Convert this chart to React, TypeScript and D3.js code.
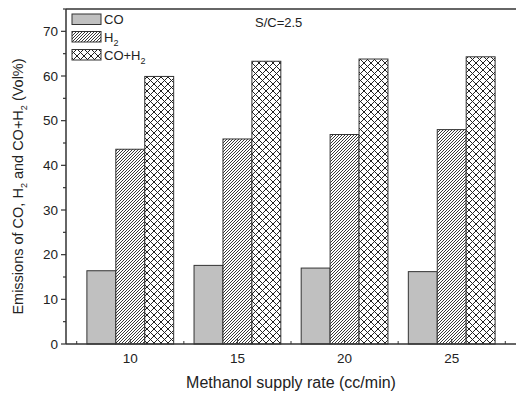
import { useEffect, useRef } from 'react';
import * as d3 from 'd3';

const rates = [10, 15, 20, 25];
const coValues = [16.4, 17.6, 17.0, 16.2];
const h2Values = [43.6, 45.9, 46.9, 48.0];
const coH2Values = [59.9, 63.3, 63.8, 64.3];
const yTicks = [0, 10, 20, 30, 40, 50, 60, 70];
const xTicks = [10, 15, 20, 25];

const W = 516;
const H = 394;

export default function App() {
  const svgRef = useRef<SVGSVGElement>(null);

  useEffect(() => {
    if (!svgRef.current) return;
    const svg = d3.select(svgRef.current);
    svg.selectAll('*').remove();

    const margin = { top: 9, right: 0, bottom: 50, left: 66 };
    const x = d3.scaleLinear().domain([7, 28]).range([margin.left, W - margin.right]);
    const y = d3.scaleLinear().domain([0, 75]).range([H - margin.bottom, margin.top]);
    const barW = x(1.35) - x(0);
    const font = 'Arial, "Liberation Sans", sans-serif';
    const stroke = '#333';

    // Patterns
    const defs = svg.append('defs');
    const diag = defs.append('pattern')
      .attr('id', 'diag')
      .attr('patternUnits', 'userSpaceOnUse')
      .attr('width', 3)
      .attr('height', 3);
    diag.append('rect').attr('width', 3).attr('height', 3).attr('fill', '#fff');
    diag.append('path')
      .attr('d', 'M0,3 L3,0 M-1,1 L1,-1 M2,4 L4,2')
      .attr('stroke', '#222')
      .attr('stroke-width', 0.9);

    const cross = defs.append('pattern')
      .attr('id', 'cross')
      .attr('patternUnits', 'userSpaceOnUse')
      .attr('width', 7)
      .attr('height', 7);
    cross.append('rect').attr('width', 7).attr('height', 7).attr('fill', '#fff');
    cross.append('path')
      .attr('d', 'M0,0 L7,7 M0,7 L7,0')
      .attr('stroke', '#222')
      .attr('stroke-width', 1);

    const series = [
      { name: 'CO', values: coValues, fill: '#c0c0c0' },
      { name: 'H2', values: h2Values, fill: 'url(#diag)' },
      { name: 'COH2', values: coH2Values, fill: 'url(#cross)' },
    ];

    // Bars
    series.forEach((s, si) => {
      svg.append('g')
        .selectAll('rect')
        .data(rates)
        .enter().append('rect')
        .attr('x', (d) => x(d) + (si - 1.5) * barW)
        .attr('y', (d, i) => y(s.values[i]))
        .attr('width', barW)
        .attr('height', (d, i) => y(0) - y(s.values[i]))
        .attr('fill', s.fill)
        .attr('stroke', stroke)
        .attr('stroke-width', 1);
    });

    // Frame lines
    svg.append('line')
      .attr('x1', x(7)).attr('x2', W)
      .attr('y1', y(75)).attr('y2', y(75))
      .attr('stroke', stroke).attr('stroke-width', 1.5);

    // Left axis
    const yAxis = svg.append('g').attr('transform', `translate(${x(7)},0)`);
    yAxis.append('line')
      .attr('y1', y(0)).attr('y2', y(75))
      .attr('stroke', stroke).attr('stroke-width', 1.5);
    yAxis.selectAll('.major')
      .data(yTicks)
      .enter().append('line')
      .attr('x1', -5).attr('x2', 0)
      .attr('y1', (d) => y(d)).attr('y2', (d) => y(d))
      .attr('stroke', stroke).attr('stroke-width', 1.2);
    yAxis.selectAll('.minor')
      .data(yTicks.map((d) => d + 5))
      .enter().append('line')
      .attr('x1', -3).attr('x2', 0)
      .attr('y1', (d) => y(d)).attr('y2', (d) => y(d))
      .attr('stroke', stroke).attr('stroke-width', 1.2);
    yAxis.selectAll('text')
      .data(yTicks)
      .enter().append('text')
      .attr('x', -8)
      .attr('y', (d) => y(d))
      .attr('dy', '0.35em')
      .attr('text-anchor', 'end')
      .style('font-family', font)
      .style('font-size', '13.5px')
      .attr('fill', '#222')
      .text((d) => d);

    // Bottom axis
    const xAxis = svg.append('g').attr('transform', `translate(0,${y(0)})`);
    xAxis.append('line')
      .attr('x1', x(7)).attr('x2', W)
      .attr('stroke', stroke).attr('stroke-width', 1.5);
    xAxis.selectAll('.minor')
      .data([7.5, 10, 12.5, 15, 17.5, 20, 22.5, 25, 27.5])
      .enter().append('line')
      .attr('x1', (d) => x(d)).attr('x2', (d) => x(d))
      .attr('y1', 0).attr('y2', (d) => (d % 5 === 0 ? -5 : -3))
      .attr('stroke', stroke).attr('stroke-width', 1);
    xAxis.selectAll('text')
      .data(xTicks)
      .enter().append('text')
      .attr('x', (d) => x(d))
      .attr('y', 19)
      .attr('text-anchor', 'middle')
      .style('font-family', font)
      .style('font-size', '13.5px')
      .attr('fill', '#222')
      .text((d) => d);

    // Axis titles
    svg.append('text')
      .attr('x', (x(7) + W) / 2)
      .attr('y', 388)
      .attr('text-anchor', 'middle')
      .style('font-family', font)
      .style('font-size', '16px')
      .attr('fill', '#222')
      .text('Methanol supply rate (cc/min)');

    const yTitle = svg.append('text')
      .attr('transform', `translate(23,${(y(0) + y(75)) / 2 + 10}) rotate(-90)`)
      .attr('text-anchor', 'middle')
      .style('font-family', font)
      .style('font-size', '14.5px')
      .attr('fill', '#222');
    yTitle.append('tspan').text('Emissions of CO, H');
    yTitle.append('tspan').attr('dy', 4).style('font-size', '9px').text('2');
    yTitle.append('tspan').attr('dy', -4).text(' and CO+H');
    yTitle.append('tspan').attr('dy', 4).style('font-size', '9px').text('2');
    yTitle.append('tspan').attr('dy', -4).text(' (Vol%)');

    // Annotation
    svg.append('text')
      .attr('x', 255)
      .attr('y', 27)
      .style('font-family', font)
      .style('font-size', '13px')
      .attr('fill', '#222')
      .text('S/C=2.5');

    // Legend
    const legend = [
      { label: 'CO', sub: '', fill: '#c0c0c0', top: 14 },
      { label: 'H', sub: '2', fill: 'url(#diag)', top: 31.5 },
      { label: 'CO+H', sub: '2', fill: 'url(#cross)', top: 49.5 },
    ];
    const lg = svg.append('g');
    legend.forEach((l) => {
      lg.append('rect')
        .attr('x', 72).attr('y', l.top)
        .attr('width', 29).attr('height', 10.5)
        .attr('fill', l.fill)
        .attr('stroke', stroke).attr('stroke-width', 1);
      const t = lg.append('text')
        .attr('x', 104).attr('y', l.top + 10)
        .style('font-family', font)
        .style('font-size', '13px')
        .attr('fill', '#222');
      t.append('tspan').text(l.label);
      if (l.sub) t.append('tspan').attr('dy', 4).style('font-size', '9px').text(l.sub);
    });
  }, []);

  return (
    <svg
      ref={svgRef}
      width={W}
      height={H}
      style={{ position: 'absolute', left: 0, top: 0, background: '#fff' }}
    />
  );
}
